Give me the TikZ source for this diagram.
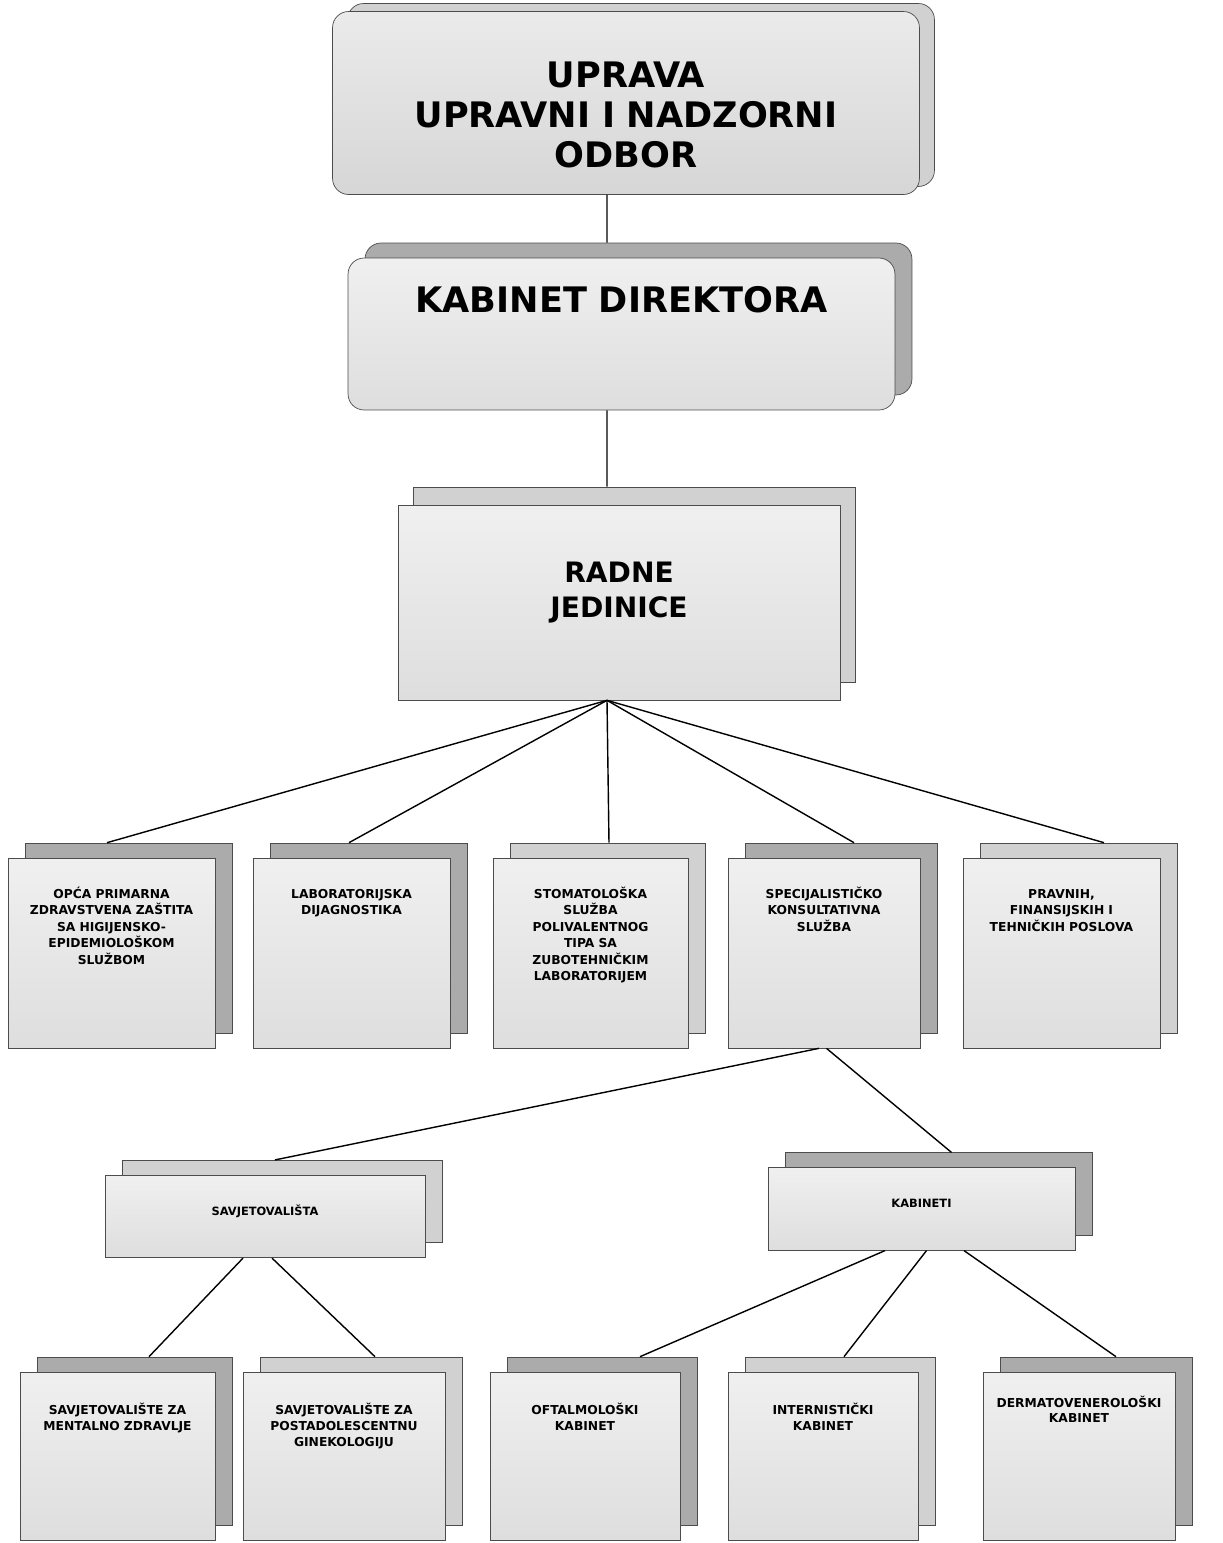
\documentclass[tikz,border=0pt]{standalone}
\usepackage{fontspec}
\setmainfont{DejaVu Sans}
\usepackage{tikz}
\usetikzlibrary{calc, shadows}

\tikzset{
  jedinica/.style={draw=black!70, top color=gray!12, bottom color=gray!26,
    inner sep=0pt, align=center},
  tamna/.style={general shadow={shadow xshift=0.34cm, shadow yshift=0.3cm,
    fill=gray!66, draw=black!70}},
  svijetla/.style={general shadow={shadow xshift=0.34cm, shadow yshift=0.3cm,
    fill=gray!36, draw=black!70}},
  red1/.style={jedinica, text height=0.8cm, text depth=3cm,
    font=\bfseries\fontsize{7}{9.4}\selectfont},
  red2/.style={jedinica, text height=0.8cm, text depth=0.85cm,
    font=\bfseries\fontsize{6.5}{8}\selectfont},
  red3/.style={jedinica, text height=0.85cm, text depth=2.51cm,
    font=\bfseries\fontsize{7}{9}\selectfont},
  veza/.style={draw=black, line width=0.8pt},
}

\begin{document}
\begin{tikzpicture}[x=0.02cm, y=-0.02cm]
\useasboundingbox (0,0) rectangle (1223,1543);

% uprava
\node[jedinica, top color=gray!16, bottom color=gray!32, rounded corners=0.32cm,
  text width=11.74cm, text height=1.52cm, text depth=2.14cm,
  general shadow={shadow xshift=0.3cm, shadow yshift=0.16cm, fill=gray!36, draw=black!70},
  font=\bfseries\fontsize{20}{22.7}\selectfont] (uprava) at (626,103)
  {UPRAVA\\ UPRAVNI I NADZORNI\\ ODBOR};

% kabinet direktora
\node[jedinica, tamna, rounded corners=0.32cm, text width=10.94cm, text height=1.08cm, text depth=1.96cm,
  font=\bfseries\fontsize{20}{22.7}\selectfont] (kabinet) at (621.5,334)
  {KABINET DIREKTORA};

% radne jedinice
\node[jedinica, text width=8.84cm, text height=1.54cm, text depth=2.36cm,
  general shadow={shadow xshift=0.3cm, shadow yshift=0.36cm, fill=gray!36, draw=black!70},
  font=\bfseries\fontsize{16}{20}\selectfont] (radne) at (619,602.5)
  {RADNE\\ JEDINICE};

% prvi red
\node[red1, tamna, text width=4.14cm] (opca) at (111.5,953)
  {OPĆA PRIMARNA\\ ZDRAVSTVENA ZAŠTITA\\ SA HIGIJENSKO-\\ EPIDEMIOLOŠKOM\\ SLUŽBOM};
\node[red1, tamna, text width=3.94cm] (lab) at (351.5,953)
  {LABORATORIJSKA\\ DIJAGNOSTIKA};
\node[red1, svijetla, text width=3.9cm] (stom) at (590.5,953)
  {STOMATOLOŠKA\\ SLUŽBA\\ POLIVALENTNOG\\ TIPA SA\\ ZUBOTEHNIČKIM\\ LABORATORIJEM};
\node[red1, tamna, text width=3.84cm] (spec) at (824,953)
  {SPECIJALISTIČKO\\ KONSULTATIVNA\\ SLUŽBA};
\node[red1, svijetla, text width=3.94cm] (pravni) at (1061.5,953)
  {PRAVNIH,\\ FINANSIJSKIH I\\ TEHNIČKIH POSLOVA};

% drugi red
\node[red2, svijetla, text width=6.4cm] (savjet) at (265,1216.5) {SAVJETOVALIŠTA};
\node[red2, tamna, text width=6.14cm] (kabineti) at (921.5,1209) {KABINETI};

% treci red
\node[red3, tamna, text width=3.9cm] (mental) at (117.5,1456)
  {SAVJETOVALIŠTE ZA\\ MENTALNO ZDRAVLJE};
\node[red3, svijetla, text width=4.04cm] (postad) at (344,1456)
  {SAVJETOVALIŠTE ZA\\ POSTADOLESCENTNU\\ GINEKOLOGIJU};
\node[red3, tamna, text width=3.8cm] (oftal) at (585,1456)
  {OFTALMOLOŠKI\\ KABINET};
\node[red3, svijetla, text width=3.8cm] (intern) at (823,1456)
  {INTERNISTIČKI\\ KABINET};
\node[red3, tamna, text width=3.84cm, text height=0.7cm, text depth=2.66cm] (derm) at (1079,1456)
  {DERMATOVENEROLOŠKI\\ KABINET};

% veze
\draw[veza] ([xshift=-0.38cm]uprava.south) -- ([xshift=-0.29cm,yshift=0.3cm]kabinet.north);
\draw[veza] ([xshift=-0.29cm]kabinet.south) -- ([xshift=-0.24cm,yshift=0.36cm]radne.north);

\draw[veza] ([xshift=-0.24cm]radne.south) -- ([xshift=-0.09cm,yshift=0.3cm]opca.north);
\draw[veza] ([xshift=-0.24cm]radne.south) -- ([xshift=-0.05cm,yshift=0.3cm]lab.north);
\draw[veza] ([xshift=-0.24cm]radne.south) -- ([xshift=0.37cm,yshift=0.3cm]stom.north);
\draw[veza] ([xshift=-0.24cm]radne.south) -- ([xshift=0.6cm,yshift=0.3cm]spec.north);
\draw[veza] ([xshift=-0.24cm]radne.south) -- ([xshift=0.85cm,yshift=0.3cm]pravni.north);

\draw[veza] ([xshift=-0.1cm]spec.south) -- ([xshift=0.2cm,yshift=0.3cm]savjet.north);
\draw[veza] ([xshift=0.05cm]spec.south) -- ([xshift=0.6cm,yshift=0.3cm]kabineti.north);

\draw[veza] ([xshift=-0.44cm]savjet.south) -- ([xshift=0.63cm,yshift=0.3cm]mental.north);
\draw[veza] ([xshift=0.14cm]savjet.south) -- ([xshift=0.62cm,yshift=0.3cm]postad.north);

\draw[veza] ([xshift=-0.73cm]kabineti.south) -- ([xshift=1.1cm,yshift=0.3cm]oftal.north);
\draw[veza] ([xshift=0.1cm]kabineti.south) -- ([xshift=0.42cm,yshift=0.3cm]intern.north);
\draw[veza] ([xshift=0.85cm]kabineti.south) -- ([xshift=0.74cm,yshift=0.3cm]derm.north);

\end{tikzpicture}
\end{document}
